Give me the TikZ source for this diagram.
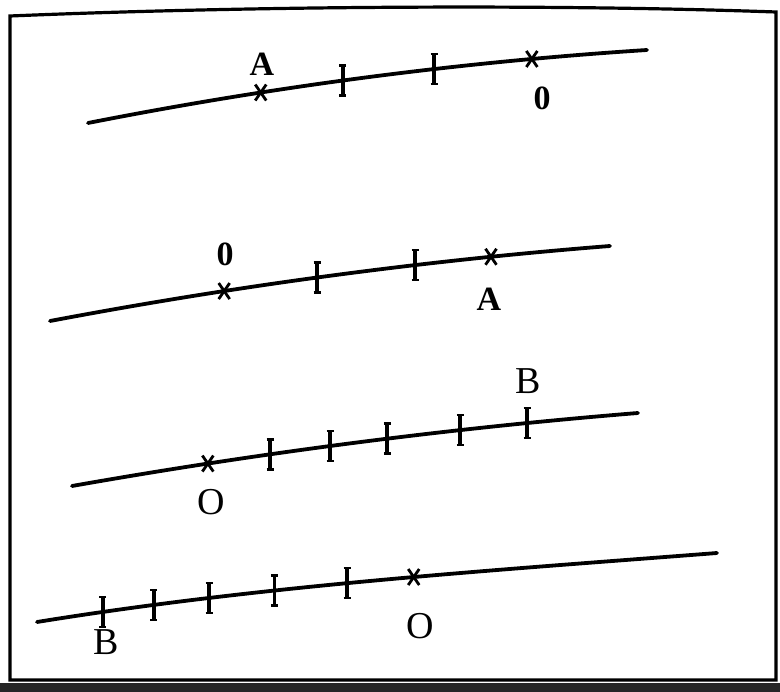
\documentclass[tikz,border=0pt]{standalone}
\usepackage{fontspec}
\setmainfont{Liberation Serif}
\usetikzlibrary{calc}
\begin{document}
\begin{tikzpicture}[x=1pt,y=-1pt,
  numline/.style={line width=3.8pt,line cap=round},
  tickmark/.style={line width=3.6pt},
  tickserif/.style={line width=2.4pt},
  crossmark/.style={line width=2.8pt},
  boldlbl/.style={font=\fontsize{34}{34}\selectfont\bfseries,inner sep=0pt},
  plainlbl/.style={font=\fontsize{38}{38}\selectfont,inner sep=0pt},
  frame/.style={line width=3.2pt}]
\useasboundingbox (0,0) rectangle (780,692);
\fill[white] (0,0) rectangle (780,692);
% page edge and frame
\fill[black!85] (0,683) rectangle (780,692);
\draw[frame] (10,16) .. controls (250,6) and (550,4) .. (776,12) -- (776,680) -- (10,680) -- cycle;

% helpers
\newcommand{\tickat}[1]{\draw[tickmark] ($(#1)+(0,-15)$) -- ($(#1)+(0,15)$);
  \draw[tickserif] ($(#1)+(-3.5,-15)$) -- ($(#1)+(3.5,-15)$);
  \draw[tickserif] ($(#1)+(-3.5,15)$) -- ($(#1)+(3.5,15)$);}
\newcommand{\crossat}[1]{\draw[crossmark] ($(#1)+(-5.5,-8)$) -- ($(#1)+(5.5,8)$);
  \draw[crossmark] ($(#1)+(5.5,-8)$) -- ($(#1)+(-5.5,8)$);}

% ---- line 1
\coordinate (a1) at (88,123);
\coordinate (a6) at (647,50);
\draw[numline] (a1) .. controls (274.3,86.3) and (460.7,62) .. (a6)
  coordinate[pos=0.309] (a2) coordinate[pos=0.456] (a3)
  coordinate[pos=0.619] (a4) coordinate[pos=0.794] (a5);
\crossat{a2} \tickat{a3} \tickat{a4} \crossat{a5}
\node[boldlbl] (A1) at (262,64) {A};
\node[boldlbl] (O1) at (542,98) {0};

% ---- line 2
\coordinate (b1) at (50,321);
\coordinate (b6) at (610,246);
\draw[numline] (b1) .. controls (236.7,285.7) and (423.3,260.7) .. (b6)
  coordinate[pos=0.311] (b2) coordinate[pos=0.477] (b3)
  coordinate[pos=0.652] (b4) coordinate[pos=0.7875] (b5);
\crossat{b2} \tickat{b3} \tickat{b4} \crossat{b5}
\node[boldlbl] (O2) at (225,254) {0};
\node[boldlbl] (A2) at (489,299) {A};

% ---- line 3
\coordinate (c1) at (72,486);
\coordinate (c8) at (638,413);
\draw[numline] (c1) .. controls (260.7,452.7) and (449.3,428.3) .. (c8)
  coordinate[pos=0.240] (c2) coordinate[pos=0.350] (c3)
  coordinate[pos=0.456] (c4) coordinate[pos=0.557] (c5)
  coordinate[pos=0.686] (c6) coordinate[pos=0.804] (c7);
\crossat{c2} \tickat{c3} \tickat{c4} \tickat{c5} \tickat{c6} \tickat{c7}
\node[plainlbl] (O3) at (211,502) {O};
\node[plainlbl] (B3) at (528,381) {B};

% ---- line 4
\coordinate (d1) at (37,622);
\coordinate (d8) at (717,553);
\draw[numline] (d1) .. controls (263.7,585.3) and (490.3,570.6) .. (d8)
  coordinate[pos=0.097] (d2) coordinate[pos=0.172] (d3)
  coordinate[pos=0.253] (d4) coordinate[pos=0.349] (d5)
  coordinate[pos=0.456] (d6) coordinate[pos=0.554] (d7);
\tickat{d2} \tickat{d3} \tickat{d4} \tickat{d5} \tickat{d6} \crossat{d7}
\node[plainlbl] (B4) at (106,642) {B};
\node[plainlbl] (O4) at (420,626) {O};
\end{tikzpicture}
\end{document}
